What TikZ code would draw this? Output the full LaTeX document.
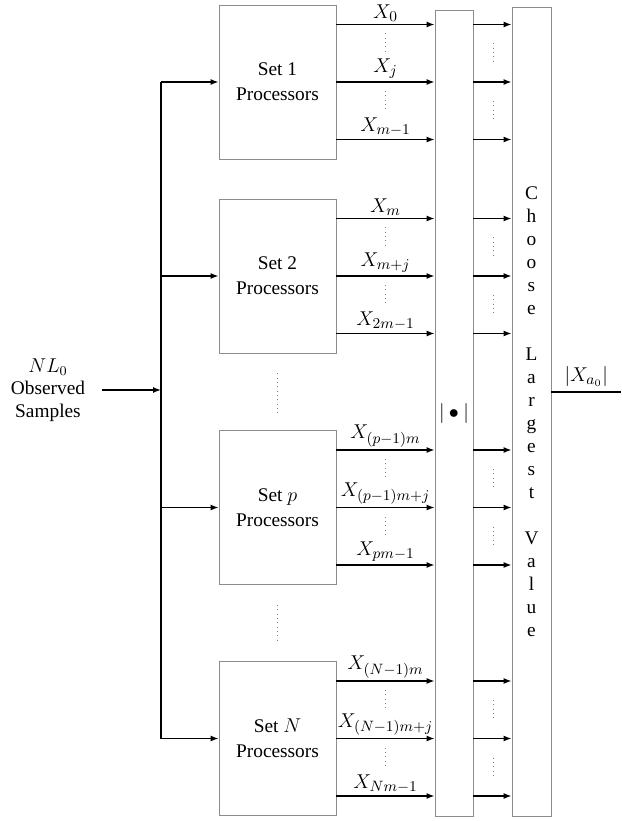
\documentclass[tikz,border=0pt]{standalone}
\usepackage{fontspec}
\setmainfont{Liberation Serif}
\usetikzlibrary{arrows.meta, positioning}
\colorlet{box edge}{black!45}
\colorlet{dot line}{black!50}
\tikzset{
  procbox/.style={draw=box edge, line width=0.5pt, minimum width=70.2pt, minimum height=92.4pt,
    align=center, inner sep=0pt, font=\fontsize{11.6}{15}\selectfont},
  tallbox/.style={draw=box edge, line width=0.5pt, inner sep=0pt, align=center},
  sig/.style={-{Latex[length=4.8pt,width=3.6pt]}, line width=0.8pt},
  wire/.style={line width=0.8pt},
  dots/.style={dotted, draw=dot line, line width=0.6pt},
  lbl/.style={above, inner sep=1.5pt, font=\fontsize{12.4}{14}\selectfont}
}

\begin{document}
\begin{tikzpicture}[x=0.6pt, y=-0.6pt, font=\fontsize{11.6}{13.8}\selectfont]
    \useasboundingbox (0,0) rectangle (621,821);
    % processor sets
    \node[procbox] (set1) at (277.5, 82) {Set 1\\Processors};
    \node[procbox] (set2) at (277.5, 276) {Set 2\\Processors};
    \node[procbox] (setp) at (277.5, 507.5) {Set $p$\\Processors};
    \node[procbox] (setN) at (277.5, 738.5) {Set $N$\\Processors};
    \node[tallbox, minimum width=22.8pt, minimum height=483.6pt, font=\fontsize{13}{15}\selectfont] (mag) at (454, 413) {$\big|\bullet\big|$};
    \node[tallbox, minimum width=23.4pt, minimum height=485.4pt] (choose) at (531.5, 411.5)
        {C\\h\\o\\o\\s\\e\\[13.8pt]L\\a\\r\\g\\e\\s\\t\\[13.8pt]V\\a\\l\\u\\e};
    \node[align=center, inner xsep=10pt, font=\fontsize{11.6}{13.5}\selectfont] (src) at (48, 390)
        {$NL_0$\\Observed\\Samples};
    \coordinate (bus) at (161, 391);
    \coordinate (out) at (621, 392);
    % input bus
    \draw[sig] (src.east) -- (src.east -| bus);
    \draw[wire] (bus |- set1.west) -- (bus |- setN.west);
    \draw[sig] (bus |- set1.west) -- (set1.west);
    \draw[sig] (bus |- set2.west) -- (set2.west);
    \draw[sig] (bus |- setp.west) -- (setp.west);
    \draw[sig] (bus |- setN.west) -- (setN.west);
    % outputs of set 1
    \draw[sig] ([yshift=34.5pt]set1.east) coordinate (s1a) -- node[lbl] {$X_0$} (s1a -| mag.west);
    \draw[sig] (set1.east) coordinate (s1b) -- node[lbl] {$X_j$} (s1b -| mag.west);
    \draw[sig] ([yshift=-34.5pt]set1.east) coordinate (s1c) -- node[lbl] {$X_{m-1}$} (s1c -| mag.west);
    % outputs of set 2
    \draw[sig] ([yshift=34.5pt]set2.east) coordinate (s2a) -- node[lbl] {$X_m$} (s2a -| mag.west);
    \draw[sig] (set2.east) coordinate (s2b) -- node[lbl] {$X_{m+j}$} (s2b -| mag.west);
    \draw[sig] ([yshift=-34.5pt]set2.east) coordinate (s2c) -- node[lbl] {$X_{2m-1}$} (s2c -| mag.west);
    % outputs of set p
    \draw[sig] ([yshift=34.5pt]setp.east) coordinate (spa) -- node[lbl] {$X_{(p-1)m}$} (spa -| mag.west);
    \draw[sig] (setp.east) coordinate (spb) -- node[lbl] {$X_{(p-1)m+j}$} (spb -| mag.west);
    \draw[sig] ([yshift=-34.5pt]setp.east) coordinate (spc) -- node[lbl] {$X_{pm-1}$} (spc -| mag.west);
    % outputs of set N
    \draw[sig] ([yshift=34.5pt]setN.east) coordinate (sNa) -- node[lbl] {$X_{(N-1)m}$} (sNa -| mag.west);
    \draw[sig] (setN.east) coordinate (sNb) -- node[lbl] {$X_{(N-1)m+j}$} (sNb -| mag.west);
    \draw[sig] ([yshift=-34.5pt]setN.east) coordinate (sNc) -- node[lbl] {$X_{Nm-1}$} (sNc -| mag.west);
    % magnitudes into the selector
    \draw[sig] (s1a -| mag.east) -- (s1a -| choose.west);
    \draw[sig] (s1b -| mag.east) -- (s1b -| choose.west);
    \draw[sig] (s1c -| mag.east) -- (s1c -| choose.west);
    \draw[sig] (s2a -| mag.east) -- (s2a -| choose.west);
    \draw[sig] (s2b -| mag.east) -- (s2b -| choose.west);
    \draw[sig] (s2c -| mag.east) -- (s2c -| choose.west);
    \draw[sig] (spa -| mag.east) -- (spa -| choose.west);
    \draw[sig] (spb -| mag.east) -- (spb -| choose.west);
    \draw[sig] (spc -| mag.east) -- (spc -| choose.west);
    \draw[sig] (sNa -| mag.east) -- (sNa -| choose.west);
    \draw[sig] (sNb -| mag.east) -- (sNb -| choose.west);
    \draw[sig] (sNc -| mag.east) -- (sNc -| choose.west);
    % output
    \draw[wire] (out -| choose.east) -- node[above, inner sep=3pt, font=\fontsize{12.4}{14}\selectfont] {$|X_{a_0}|$} (out);
    % dotted gaps
    \foreach \y in {24.5, 82, 218.5, 276, 450, 507.5, 681, 738.5} {
        \draw[dots] (385.5, {\y+9}) -- (385.5, {\y+27});
        \draw[dots] (493, {\y+19}) -- (493, {\y+39});
    }
    \draw[dots] ([yshift=-12pt]set2.south) -- ([yshift=10pt]setp.north);
    \draw[dots] ([yshift=-12pt]setp.south) -- ([yshift=12pt]setN.north);
\end{tikzpicture}
\end{document}
